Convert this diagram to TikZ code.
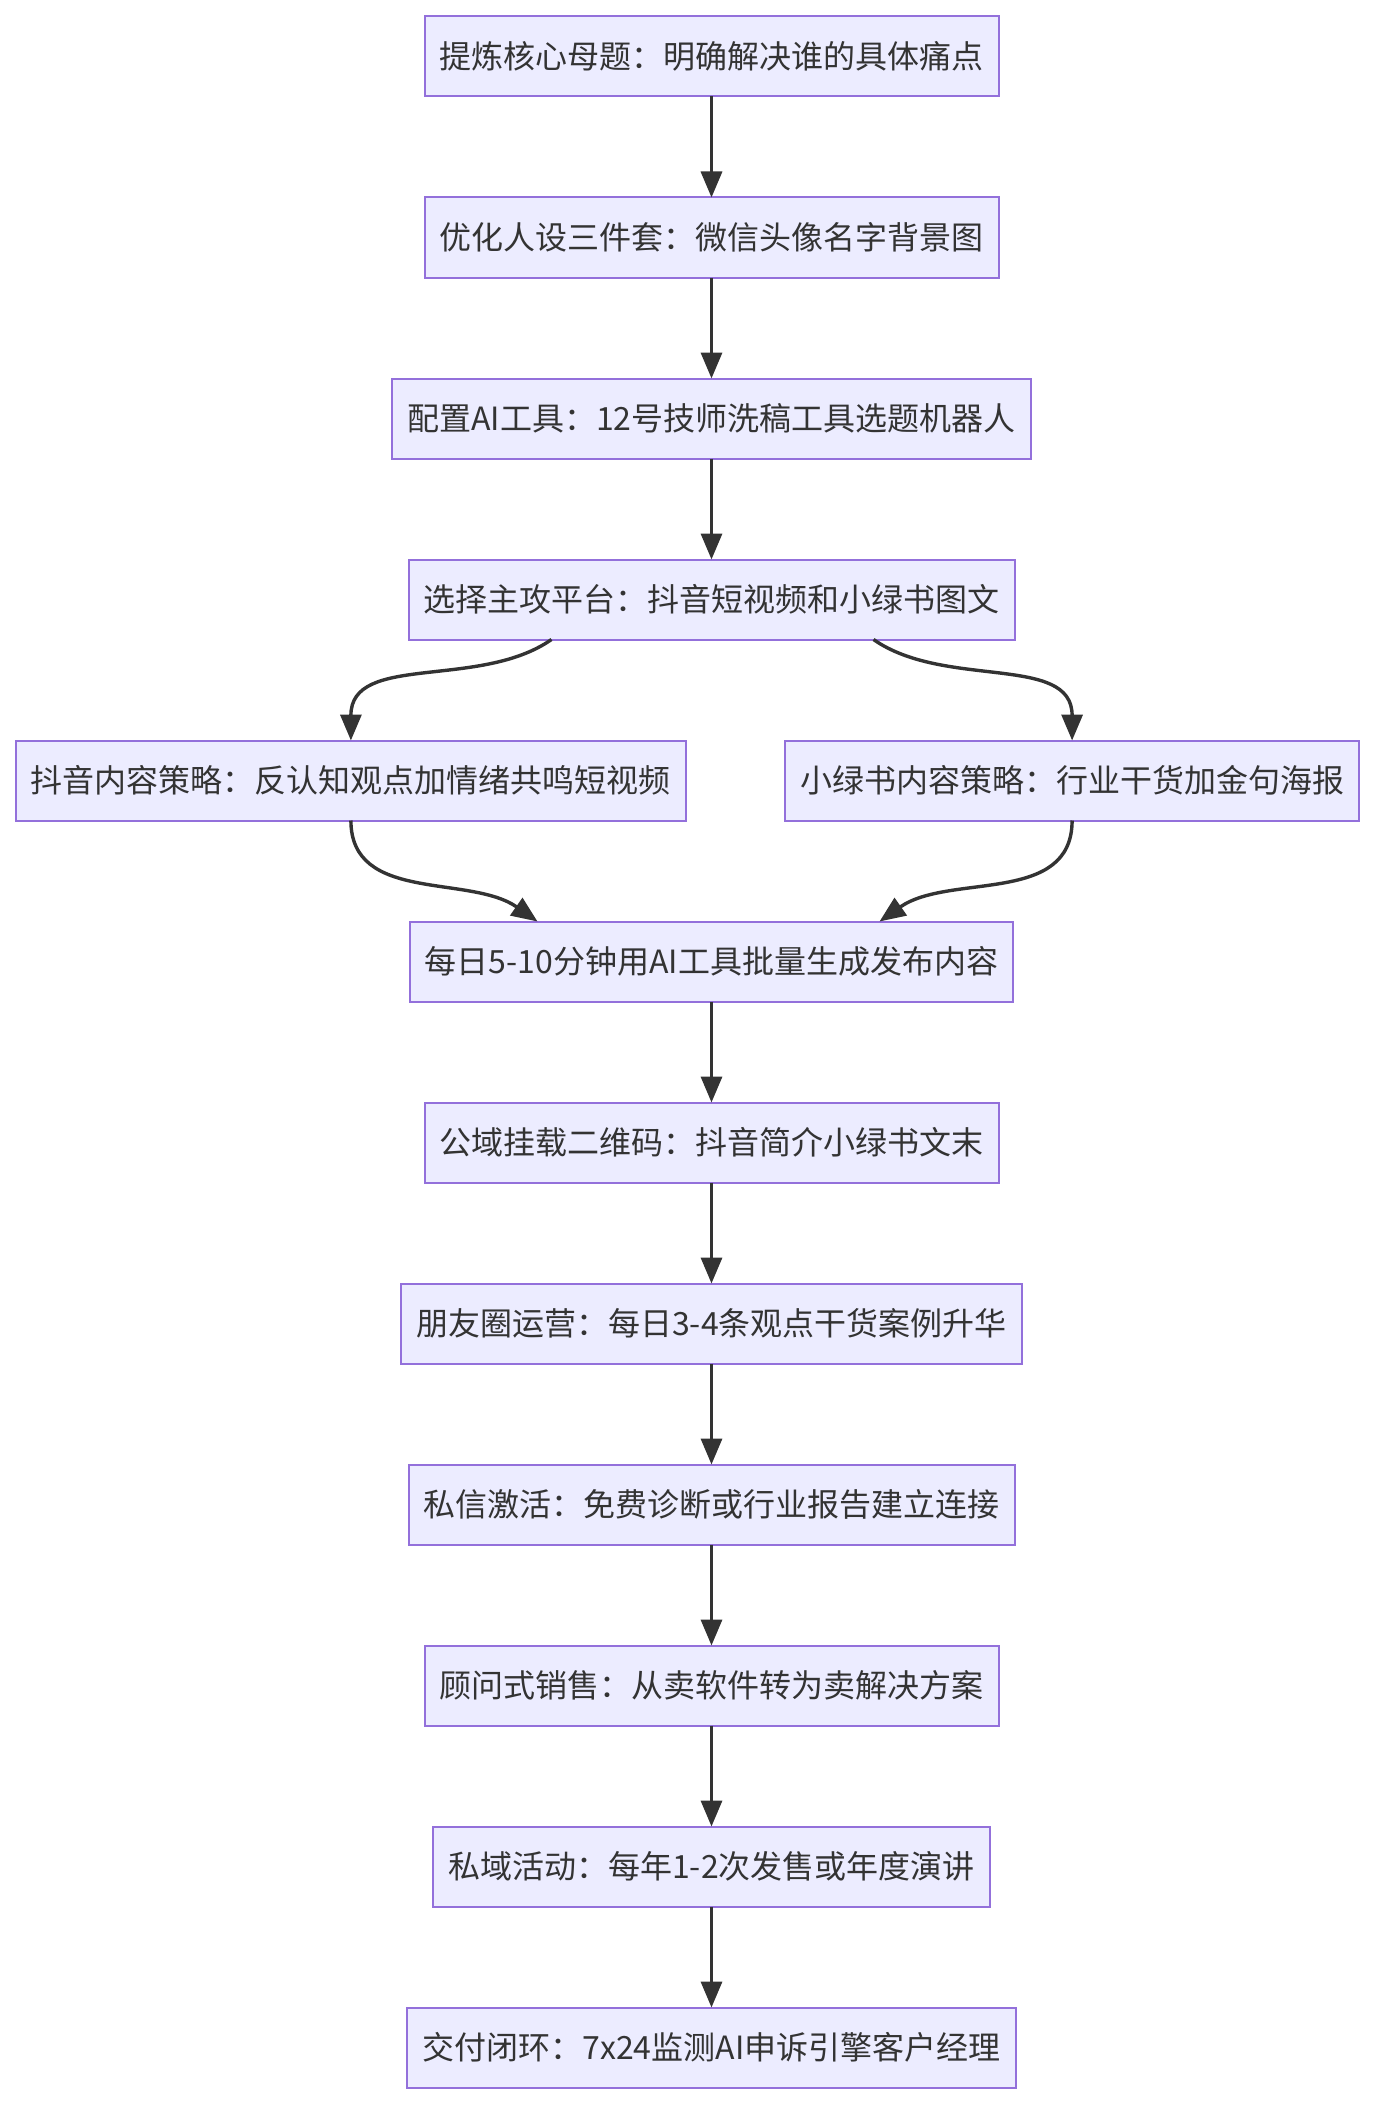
\documentclass[tikz,border=0pt]{standalone}
\usepackage{fontspec}
\setmainfont{Noto Sans CJK SC}
\usetikzlibrary{arrows.meta, positioning}
\definecolor{mmdfill}{HTML}{ECECFF}
\definecolor{mmdborder}{HTML}{9370DB}
\definecolor{mmdtext}{HTML}{333333}

\begin{document}
\begin{tikzpicture}[
      stepbox/.style={rectangle, draw=mmdborder, fill=mmdfill, line width=1pt, outer sep=0pt, minimum height=40pt, inner xsep=7.5pt, inner ysep=0pt, text=mmdtext, font=\fontsize{16}{19}\selectfont},
      arr/.style={-{Triangle[length=13pt, width=10.5pt]}, line width=1.7pt, mmdtext},
      node distance=50.5pt
    ]
      \useasboundingbox (0,0) rectangle (688pt,-1054pt);

      \node[stepbox] (theme) at (355.75pt,-28.25pt) {提炼核心母题：明确解决谁的具体痛点};
      \node[stepbox, below=of theme] (persona) {优化人设三件套：微信头像名字背景图};
      \node[stepbox, below=of persona, minimum width=317.8pt] (tools) {配置AI工具：12号技师洗稿工具选题机器人};
      \node[stepbox, below=of tools] (plat) {选择主攻平台：抖音短视频和小绿书图文};

      % two platform branches
      \node[stepbox, below=of plat, xshift=-180.3pt] (douyin) {抖音内容策略：反认知观点加情绪共鸣短视频};
      \node[stepbox, below=of plat, xshift=180.3pt] (xhs) {小绿书内容策略：行业干货加金句海报};

      \node[stepbox, below=141pt of plat, minimum width=300.3pt] (batch) {每日5-10分钟用AI工具批量生成发布内容};
      \node[stepbox, below=of batch] (qrcode) {公域挂载二维码：抖音简介小绿书文末};
      \node[stepbox, below=of qrcode, minimum width=309.7pt] (moments) {朋友圈运营：每日3-4条观点干货案例升华};
      \node[stepbox, below=of moments] (dm) {私信激活：免费诊断或行业报告建立连接};
      \node[stepbox, below=of dm] (sales) {顾问式销售：从卖软件转为卖解决方案};
      \node[stepbox, below=of sales, minimum width=277.5pt] (event) {私域活动：每年1-2次发售或年度演讲};
      \node[stepbox, below=of event, minimum width=302.3pt] (deliver) {交付闭环：7x24监测AI申诉引擎客户经理};

      \foreach \a/\b in {theme/persona, persona/tools, tools/plat, batch/qrcode, qrcode/moments, moments/dm, dm/sales, sales/event, event/deliver}
        \draw[arr] (\a) -- (\b);

      \draw[arr] ([xshift=-80pt]plat.south) to[out=-145, in=90] (douyin.north);
      \draw[arr] ([xshift=81pt]plat.south) to[out=-35, in=90] (xhs.north);
      \draw[arr] (douyin.south) to[out=-90, in=145] ([xshift=-87pt]batch.north);
      \draw[arr] (xhs.south) to[out=-90, in=35] ([xshift=84pt]batch.north);
    \end{tikzpicture}
\end{document}
